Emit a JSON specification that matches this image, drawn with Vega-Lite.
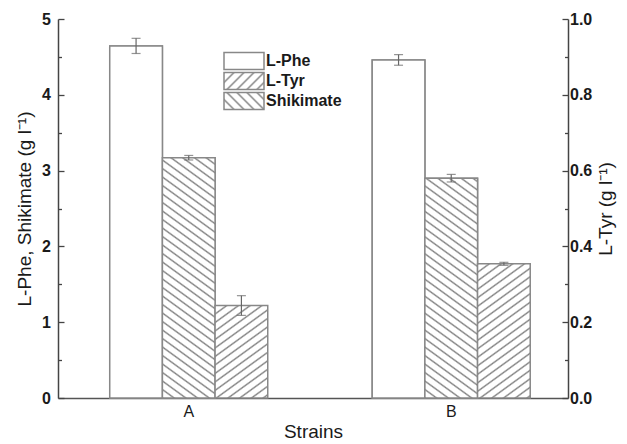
{
  "$schema": "https://vega.github.io/schema/vega-lite/v6.json",
  "width": 510,
  "height": 379,
  "autosize": {"type": "none"},
  "padding": {"left": 58, "top": 19, "right": 59, "bottom": 46},
  "background": "white",
  "params": [
    {"name": "hatch", "value": [
      {"offset":0,"color":"#808080"},{"offset":0.006,"color":"#fff"},{"offset":0.024,"color":"#fff"},
      {"offset":0.03,"color":"#808080"},{"offset":0.036,"color":"#fff"},{"offset":0.054,"color":"#fff"},
      {"offset":0.06,"color":"#808080"},{"offset":0.066,"color":"#fff"},{"offset":0.084,"color":"#fff"},
      {"offset":0.09,"color":"#808080"},{"offset":0.096,"color":"#fff"},{"offset":0.114,"color":"#fff"},
      {"offset":0.12,"color":"#808080"},{"offset":0.126,"color":"#fff"},{"offset":0.144,"color":"#fff"},
      {"offset":0.15,"color":"#808080"},{"offset":0.156,"color":"#fff"},{"offset":0.174,"color":"#fff"},
      {"offset":0.18,"color":"#808080"},{"offset":0.186,"color":"#fff"},{"offset":0.204,"color":"#fff"},
      {"offset":0.21,"color":"#808080"},{"offset":0.216,"color":"#fff"},{"offset":0.234,"color":"#fff"},
      {"offset":0.24,"color":"#808080"},{"offset":0.246,"color":"#fff"},{"offset":0.264,"color":"#fff"},
      {"offset":0.27,"color":"#808080"},{"offset":0.276,"color":"#fff"},{"offset":0.294,"color":"#fff"},
      {"offset":0.3,"color":"#808080"},{"offset":0.306,"color":"#fff"},{"offset":0.324,"color":"#fff"},
      {"offset":0.33,"color":"#808080"},{"offset":0.336,"color":"#fff"},{"offset":0.354,"color":"#fff"},
      {"offset":0.36,"color":"#808080"},{"offset":0.366,"color":"#fff"},{"offset":0.384,"color":"#fff"},
      {"offset":0.39,"color":"#808080"},{"offset":0.396,"color":"#fff"},{"offset":0.414,"color":"#fff"},
      {"offset":0.42,"color":"#808080"},{"offset":0.426,"color":"#fff"},{"offset":0.444,"color":"#fff"},
      {"offset":0.45,"color":"#808080"},{"offset":0.456,"color":"#fff"},{"offset":0.474,"color":"#fff"},
      {"offset":0.48,"color":"#808080"},{"offset":0.486,"color":"#fff"},{"offset":0.504,"color":"#fff"},
      {"offset":0.51,"color":"#808080"},{"offset":0.516,"color":"#fff"},{"offset":0.534,"color":"#fff"},
      {"offset":0.54,"color":"#808080"},{"offset":0.546,"color":"#fff"},{"offset":0.564,"color":"#fff"},
      {"offset":0.57,"color":"#808080"},{"offset":0.576,"color":"#fff"},{"offset":0.594,"color":"#fff"},
      {"offset":0.6,"color":"#808080"},{"offset":0.606,"color":"#fff"},{"offset":0.624,"color":"#fff"},
      {"offset":0.63,"color":"#808080"},{"offset":0.636,"color":"#fff"},{"offset":0.654,"color":"#fff"},
      {"offset":0.66,"color":"#808080"},{"offset":0.666,"color":"#fff"},{"offset":0.684,"color":"#fff"},
      {"offset":0.69,"color":"#808080"},{"offset":0.696,"color":"#fff"},{"offset":0.714,"color":"#fff"},
      {"offset":0.72,"color":"#808080"},{"offset":0.726,"color":"#fff"},{"offset":0.744,"color":"#fff"},
      {"offset":0.75,"color":"#808080"},{"offset":0.756,"color":"#fff"},{"offset":0.774,"color":"#fff"},
      {"offset":0.78,"color":"#808080"},{"offset":0.786,"color":"#fff"},{"offset":0.804,"color":"#fff"},
      {"offset":0.81,"color":"#808080"},{"offset":0.816,"color":"#fff"},{"offset":0.834,"color":"#fff"},
      {"offset":0.84,"color":"#808080"},{"offset":0.846,"color":"#fff"},{"offset":0.864,"color":"#fff"},
      {"offset":0.87,"color":"#808080"},{"offset":0.876,"color":"#fff"},{"offset":0.894,"color":"#fff"},
      {"offset":0.9,"color":"#808080"},{"offset":0.906,"color":"#fff"},{"offset":0.924,"color":"#fff"},
      {"offset":0.93,"color":"#808080"},{"offset":0.936,"color":"#fff"},{"offset":0.954,"color":"#fff"},
      {"offset":0.96,"color":"#808080"},{"offset":0.966,"color":"#fff"},{"offset":0.984,"color":"#fff"},
      {"offset":0.99,"color":"#808080"},{"offset":0.996,"color":"#fff"},{"offset":1,"color":"#fff"}
    ]}
  ],
  "data": {"values": [
    {"strain": "A", "series": "L-Phe", "value": 4.645, "err": 0.1},
    {"strain": "A", "series": "Shikimate", "value": 3.17, "err": 0.03},
    {"strain": "A", "series": "L-Tyr", "value": 0.244, "err": 0.026},
    {"strain": "B", "series": "L-Phe", "value": 4.46, "err": 0.07},
    {"strain": "B", "series": "Shikimate", "value": 2.9, "err": 0.05},
    {"strain": "B", "series": "L-Tyr", "value": 0.354, "err": 0.004}
  ]},
  "encoding": {
    "x": {"field": "strain", "type": "nominal",
      "scale": {"domain": ["A", "B"], "paddingInner": 0.398, "paddingOuter": 0.1705, "align": 0.578},
      "axis": {"title": "Strains", "labelAngle": 0, "ticks": false, "labelPadding": 5, "titlePadding": 3,
        "labelFontSize": 16, "labelFontWeight": "normal", "domainColor": "#555", "domainWidth": 1.5}},
    "xOffset": {"field": "series", "type": "nominal",
      "scale": {"domain": ["L-Phe", "Shikimate", "L-Tyr"], "paddingInner": 0, "paddingOuter": 0}}
  },
  "layer": [
    {
      "transform": [{"filter": "datum.series !== 'L-Tyr'"}],
      "encoding": {
        "y": {"field": "value", "type": "quantitative",
          "scale": {"domain": [0, 5], "nice": false, "zero": true},
          "axis": {"orient": "left", "title": "L-Phe, Shikimate (g l⁻¹)",
            "values": [0, 0.5, 1, 1.5, 2, 2.5, 3, 3.5, 4, 4.5, 5],
            "labelExpr": "datum.value % 1 === 0 ? format(datum.value, 'd') : ''",
            "tickSize": {"condition": {"test": "datum.value % 1 === 0", "value": -6}, "value": -3.5},
            "labelPadding": 13.5, "titlePadding": 7}}
      },
      "layer": [
        {"mark": {"type": "bar", "stroke": "#888", "strokeWidth": 1.5},
         "encoding": {"fill": {"field": "series", "type": "nominal",
           "scale": {"domain": ["L-Phe", "L-Tyr", "Shikimate"],
             "range": ["white",
               {"expr": "{gradient: 'linear', x1: 0, y1: 0, x2: 7.05, y2: 3.0, stops: hatch}"},
               {"expr": "{gradient: 'linear', x1: 0, y1: 1, x2: 7.05, y2: -2.0, stops: hatch}"}]},
           "legend": {"orient": "none", "legendX": 178, "legendY": 34, "title": null,
             "symbolType": "M-4,-1.7H4V1.7H-4Z", "symbolSize": 100, "rowPadding": -6.2,
             "labelOffset": 14, "padding": 0, "labelFontSize": 16, "labelFontWeight": "bold",
             "labelFont": "Liberation Sans", "labelColor": "#1a1a1a",
             "symbolStrokeWidth": 1.5, "symbolStrokeColor": "#888"}}}},
        {"mark": {"type": "bar", "stroke": "#888", "strokeWidth": 1.5,
          "fill": {"expr": "datum.series === 'L-Phe' ? 'white' : {gradient: 'linear', x1: 0, y1: 1, x2: datum.strain === 'A' ? 0.183 : 0.217, y2: datum.strain === 'A' ? -0.150 : -0.249, stops: hatch}"}}},
        {"mark": {"type": "errorbar", "color": "#666", "ticks": {"size": 9, "thickness": 1.2}, "rule": {"strokeWidth": 1.2}},
         "encoding": {"yError": {"field": "err"}}}
      ]
    },
    {
      "transform": [{"filter": "datum.series === 'L-Tyr'"}],
      "encoding": {
        "y": {"field": "value", "type": "quantitative",
          "scale": {"domain": [0, 1], "nice": false, "zero": true},
          "axis": {"orient": "right", "title": "L-Tyr (g l⁻¹)", "titleAngle": 270, "titleBaseline": "top",
            "values": [0, 0.1, 0.2, 0.3, 0.4, 0.5, 0.6, 0.7, 0.8, 0.9, 1],
            "labelExpr": "round(datum.value * 10) % 2 === 0 ? format(datum.value, '.1f') : ''",
            "tickSize": {"condition": {"test": "round(datum.value * 10) % 2 === 0", "value": -6}, "value": -3.5},
            "labelPadding": 7.5, "titlePadding": 5}}
      },
      "layer": [
        {"mark": {"type": "bar", "stroke": "#888", "strokeWidth": 1.5,
          "fill": {"expr": "{gradient: 'linear', x1: 0, y1: 0, x2: datum.strain === 'A' ? 1.079 : 0.556, y2: datum.strain === 'A' ? 2.615 : 1.954, stops: hatch}"}}},
        {"mark": {"type": "errorbar", "color": "#666", "ticks": {"size": 9, "thickness": 1.2}, "rule": {"strokeWidth": 1.2}},
         "encoding": {"yError": {"field": "err"}}}
      ]
    }
  ],
  "resolve": {"scale": {"y": "independent"}},
  "config": {
    "view": {"stroke": null},
    "font": "Liberation Sans",
    "axis": {"labelFont": "Liberation Sans", "titleFont": "Liberation Sans", "labelFontSize": 16, "labelFontWeight": "bold", "titleFontSize": 19,
      "titleFontWeight": "normal", "labelColor": "#1a1a1a", "titleColor": "#1a1a1a",
      "domainColor": "#444", "tickColor": "#444", "domainWidth": 1.5, "tickWidth": 1.3, "grid": false}
  }
}
